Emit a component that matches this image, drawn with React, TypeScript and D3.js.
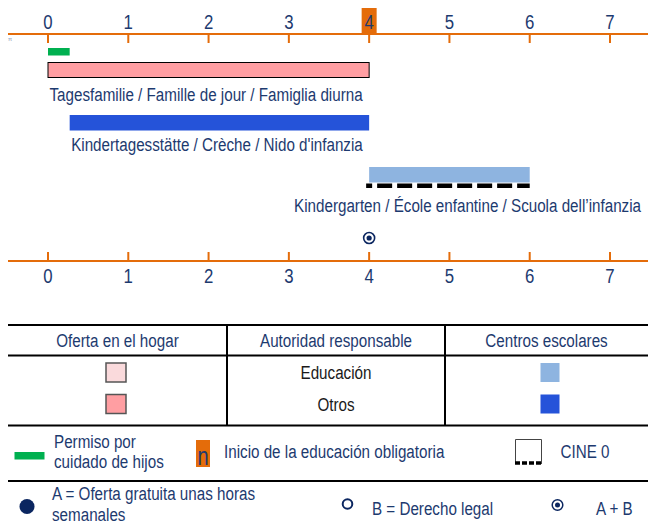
import React from 'react';
import * as d3 from 'd3';

// age ticks (years)
const ageTicks = [0, 1, 2, 3, 4, 5, 6, 7];
const compulsoryStart = 4;

// parental leave
const leaveStart = 0;
const leaveEnd = 0.27;

// provision bars
const barLabels = [
  'Tagesfamilie / Famille de jour / Famiglia diurna',
  "Kindertagesstätte / Crèche / Nido d'infanzia",
  'Kindergarten / École enfantine / Scuola dell\u2019infanzia',
];
const barStarts = [0, 0.27, 4];
const barEnds = [4, 4, 6];
const barKinds = ['home-other', 'centre-other', 'centre-edu'];

// ISCED 0 range
const cineStart = 4;
const cineEnd = 6;

// A + B marker age
const abAge = 4;

// legend
const tableHeaders = ['Oferta en el hogar', 'Autoridad responsable', 'Centros escolares'];
const authorityRows = ['Educación', 'Otros'];

const W = 648;
const H = 527;
const FONT = "'Liberation Sans', Arial, sans-serif";
const SX = 0.8; // condensed look
const NAVY = '#1d3a6f';
const DARK = '#0b2660';
const ORANGE = '#e46c0a';
const GREEN = '#00b050';
const PINK = '#ff9ea2';
const LIGHT_PINK = '#fadadc';
const BLUE = '#2553d9';
const LIGHT_BLUE = '#8eb4e0';

const fills: Record<string, string> = {
  'home-other': PINK,
  'home-edu': LIGHT_PINK,
  'centre-other': BLUE,
  'centre-edu': LIGHT_BLUE,
};

// narrow text: regular sans squeezed horizontally
const T = ({ x, y, size = 19, anchor = 'start', fill = NAVY, children }: any) => (
  <text
    transform={`translate(${x},${y}) scale(${SX},1)`}
    textAnchor={anchor}
    fontSize={size}
    fill={fill}
  >
    {children}
  </text>
);

const App = () => {
  const x = d3.scaleLinear().domain([0, 7]).range([48, 610]);

  const topAxisY = 34;
  const bottomAxisY = 261;
  const barY = [62.5, 115, 167];
  const barH = [15, 15.5, 15.5];
  const labelY = [101, 151, 212];

  const colX = [8, 227, 445, W];
  const colMid = colX.slice(0, 3).map((c, i) => (c + colX[i + 1]) / 2);

  return (
    <svg
      width={W}
      height={H}
      viewBox={`0 0 ${W} ${H}`}
      style={{ position: 'absolute', left: 0, top: 0, background: '#fff' }}
      fontFamily={FONT}
    >
      {/* compulsory education marker on top axis */}
      <rect x={x(compulsoryStart) - 7.5} y={8} width={15} height={topAxisY - 8} fill={ORANGE} />

      {/* top axis */}
      <line x1={8} x2={W} y1={topAxisY} y2={topAxisY} stroke={ORANGE} strokeWidth={2.2} />
      {ageTicks.map((t) => (
        <g key={'tt' + t}>
          <line x1={x(t)} x2={x(t)} y1={topAxisY} y2={topAxisY + 9} stroke={ORANGE} strokeWidth={2} />
          <T x={x(t)} y={28.5} size={21} anchor="middle">{t}</T>
        </g>
      ))}
      <text x={8} y={40.5} fontSize={6} fill="#8c96b4">π</text>

      {/* parental leave */}
      <rect x={x(leaveStart)} y={48} width={x(leaveEnd) - x(leaveStart)} height={7.5} fill={GREEN} />

      {/* provision bars */}
      {barLabels.map((lab, i) => (
        <g key={lab}>
          <rect
            x={x(barStarts[i])}
            y={barY[i]}
            width={x(barEnds[i]) - x(barStarts[i])}
            height={barH[i]}
            fill={fills[barKinds[i]]}
            stroke={barKinds[i].startsWith('home') ? '#000' : 'none'}
            strokeWidth={1}
          />
          {i < 2 ? (
            <T x={x(barStarts[i]) + 1.5} y={labelY[i]}>{lab}</T>
          ) : (
            <T x={641} y={labelY[i]} anchor="end">{lab}</T>
          )}
        </g>
      ))}

      {/* CINE 0 dashed line */}
      <line
        x1={x(cineStart) - 3}
        x2={x(cineEnd)}
        y1={185.7}
        y2={185.7}
        stroke="#000"
        strokeWidth={4.5}
        strokeDasharray="15,5"
        strokeDashoffset={9}
      />

      {/* A + B marker */}
      <circle cx={x(abAge)} cy={238} r={5.5} fill="none" stroke={DARK} strokeWidth={1.6} />
      <circle cx={x(abAge)} cy={238} r={2.6} fill={DARK} />

      {/* bottom axis */}
      <line x1={8} x2={W} y1={bottomAxisY} y2={bottomAxisY} stroke={ORANGE} strokeWidth={2.2} />
      {ageTicks.map((t) => (
        <g key={'bt' + t}>
          <line x1={x(t)} x2={x(t)} y1={bottomAxisY - 9} y2={bottomAxisY} stroke={ORANGE} strokeWidth={2} />
          <T x={x(t)} y={282.5} size={21} anchor="middle">{t}</T>
        </g>
      ))}

      {/* legend table */}
      <line x1={8} x2={W} y1={325} y2={325} stroke="#000" strokeWidth={2} />
      <line x1={8} x2={W} y1={355.5} y2={355.5} stroke="#000" strokeWidth={2} />
      <line x1={colX[1]} x2={colX[1]} y1={325} y2={425} stroke="#000" strokeWidth={2} />
      <line x1={colX[2]} x2={colX[2]} y1={325} y2={425} stroke="#000" strokeWidth={2} />
      {tableHeaders.map((h, i) => (
        <T key={h} x={colMid[i]} y={346.5} anchor="middle">{h}</T>
      ))}
      {authorityRows.map((r, i) => {
        const cy = 372.5 + i * 31.5;
        return (
          <g key={r}>
            <rect
              x={116 - 10}
              y={cy - 9.5}
              width={20}
              height={19}
              fill={i === 0 ? fills['home-edu'] : fills['home-other']}
              stroke="#555"
              strokeWidth={1.5}
            />
            <T x={colMid[1]} y={cy + 6.5} anchor="middle" fill="#1a1a1a">{r}</T>
            <rect
              x={550 - 9.5}
              y={cy - 9.5}
              width={19}
              height={19}
              fill={i === 0 ? fills['centre-edu'] : fills['centre-other']}
            />
          </g>
        );
      })}

      {/* legend row: leave, compulsory, CINE */}
      <line x1={8} x2={W} y1={425.5} y2={425.5} stroke="#000" strokeWidth={2} />
      <rect x={14.5} y={452} width={30} height={7.5} fill={GREEN} />
      <T x={54} y={447.5}>Permiso por</T>
      <T x={54} y={468}>cuidado de hijos</T>

      <rect x={196} y={440} width={14} height={27} fill={ORANGE} />
      <T x={203} y={465} size={25} anchor="middle">n</T>
      <T x={224} y={458}>Inicio de la educación obligatoria</T>

      <path d="M515.5,464 V439.5 H541.5 V464" fill="none" stroke="#444" strokeWidth={1} />
      <line x1={515} x2={542} y1={463} y2={463} stroke="#000" strokeWidth={3.5} strokeDasharray="5,2" />
      <T x={560.5} y={458}>CINE 0</T>

      {/* legend row: A, B, A+B */}
      <line x1={8} x2={W} y1={481} y2={481} stroke="#000" strokeWidth={2} />
      <circle cx={27} cy={506.5} r={7.5} fill={DARK} />
      <T x={52} y={500}>A = Oferta gratuita unas horas</T>
      <T x={52} y={521}>semanales</T>

      <circle cx={347.5} cy={504} r={4.8} fill="none" stroke={DARK} strokeWidth={2} />
      <T x={372} y={514.5}>B = Derecho legal</T>

      <circle cx={557.5} cy={505} r={5.3} fill="none" stroke={DARK} strokeWidth={1.5} />
      <circle cx={557.5} cy={505} r={2.5} fill={DARK} />
      <T x={596} y={514.5}>A + B</T>
    </svg>
  );
};

export default App;
